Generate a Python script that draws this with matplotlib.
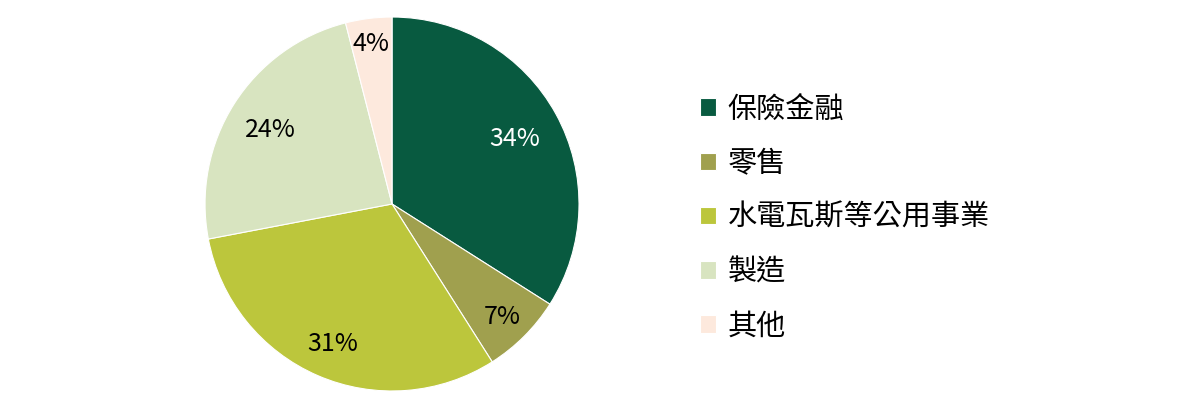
import numpy as np
import matplotlib
matplotlib.use("Agg")
import matplotlib.pyplot as plt

plt.rcParams['font.family'] = ['Noto Sans CJK TC', 'DejaVu Sans']

categories = ['保險金融', '零售', '水電瓦斯等公用事業', '製造', '其他']
shares = [34, 7, 31, 24, 4]
colors = ['#085A40', '#A0A04E', '#BCC63C', '#D8E4C0', '#FDE9DD']
label_colors = ['white', 'black', 'black', 'black', 'black']
# radial placement of each percentage label (fraction of the radius)
label_radius = [0.75, 0.83, 0.80, 0.77, 0.88]

fig = plt.figure(figsize=(12.04, 4.04), dpi=100)
ax = fig.add_axes([0.1703, 0.0322, 0.3106, 0.9257])

wedges, texts, autotexts = ax.pie(
    shares, colors=colors, startangle=90, counterclock=False,
    autopct=lambda p: f'{p:.0f}%', pctdistance=0.8,
    wedgeprops=dict(edgecolor='white', linewidth=0.8),
    textprops=dict(fontsize=18),
)
for w, t, c, r in zip(wedges, autotexts, label_colors, label_radius):
    mid = np.deg2rad((w.theta1 + w.theta2) / 2)
    t.set_position((r * np.cos(mid), r * np.sin(mid)))
    t.set_verticalalignment('center_baseline')
    t.set_color(c)
ax.set_xlim(-1, 1)
ax.set_ylim(-1, 1)
ax.set_aspect('equal')

fig.legend(wedges, categories, loc='center left',
           bbox_to_anchor=(700 / 1204, 186 / 404),
           frameon=False, fontsize=21, handlelength=0.55, handleheight=0.55,
           handletextpad=0.4, labelspacing=0.83, borderpad=0, borderaxespad=0)

fig.savefig('out.png', dpi=100)
